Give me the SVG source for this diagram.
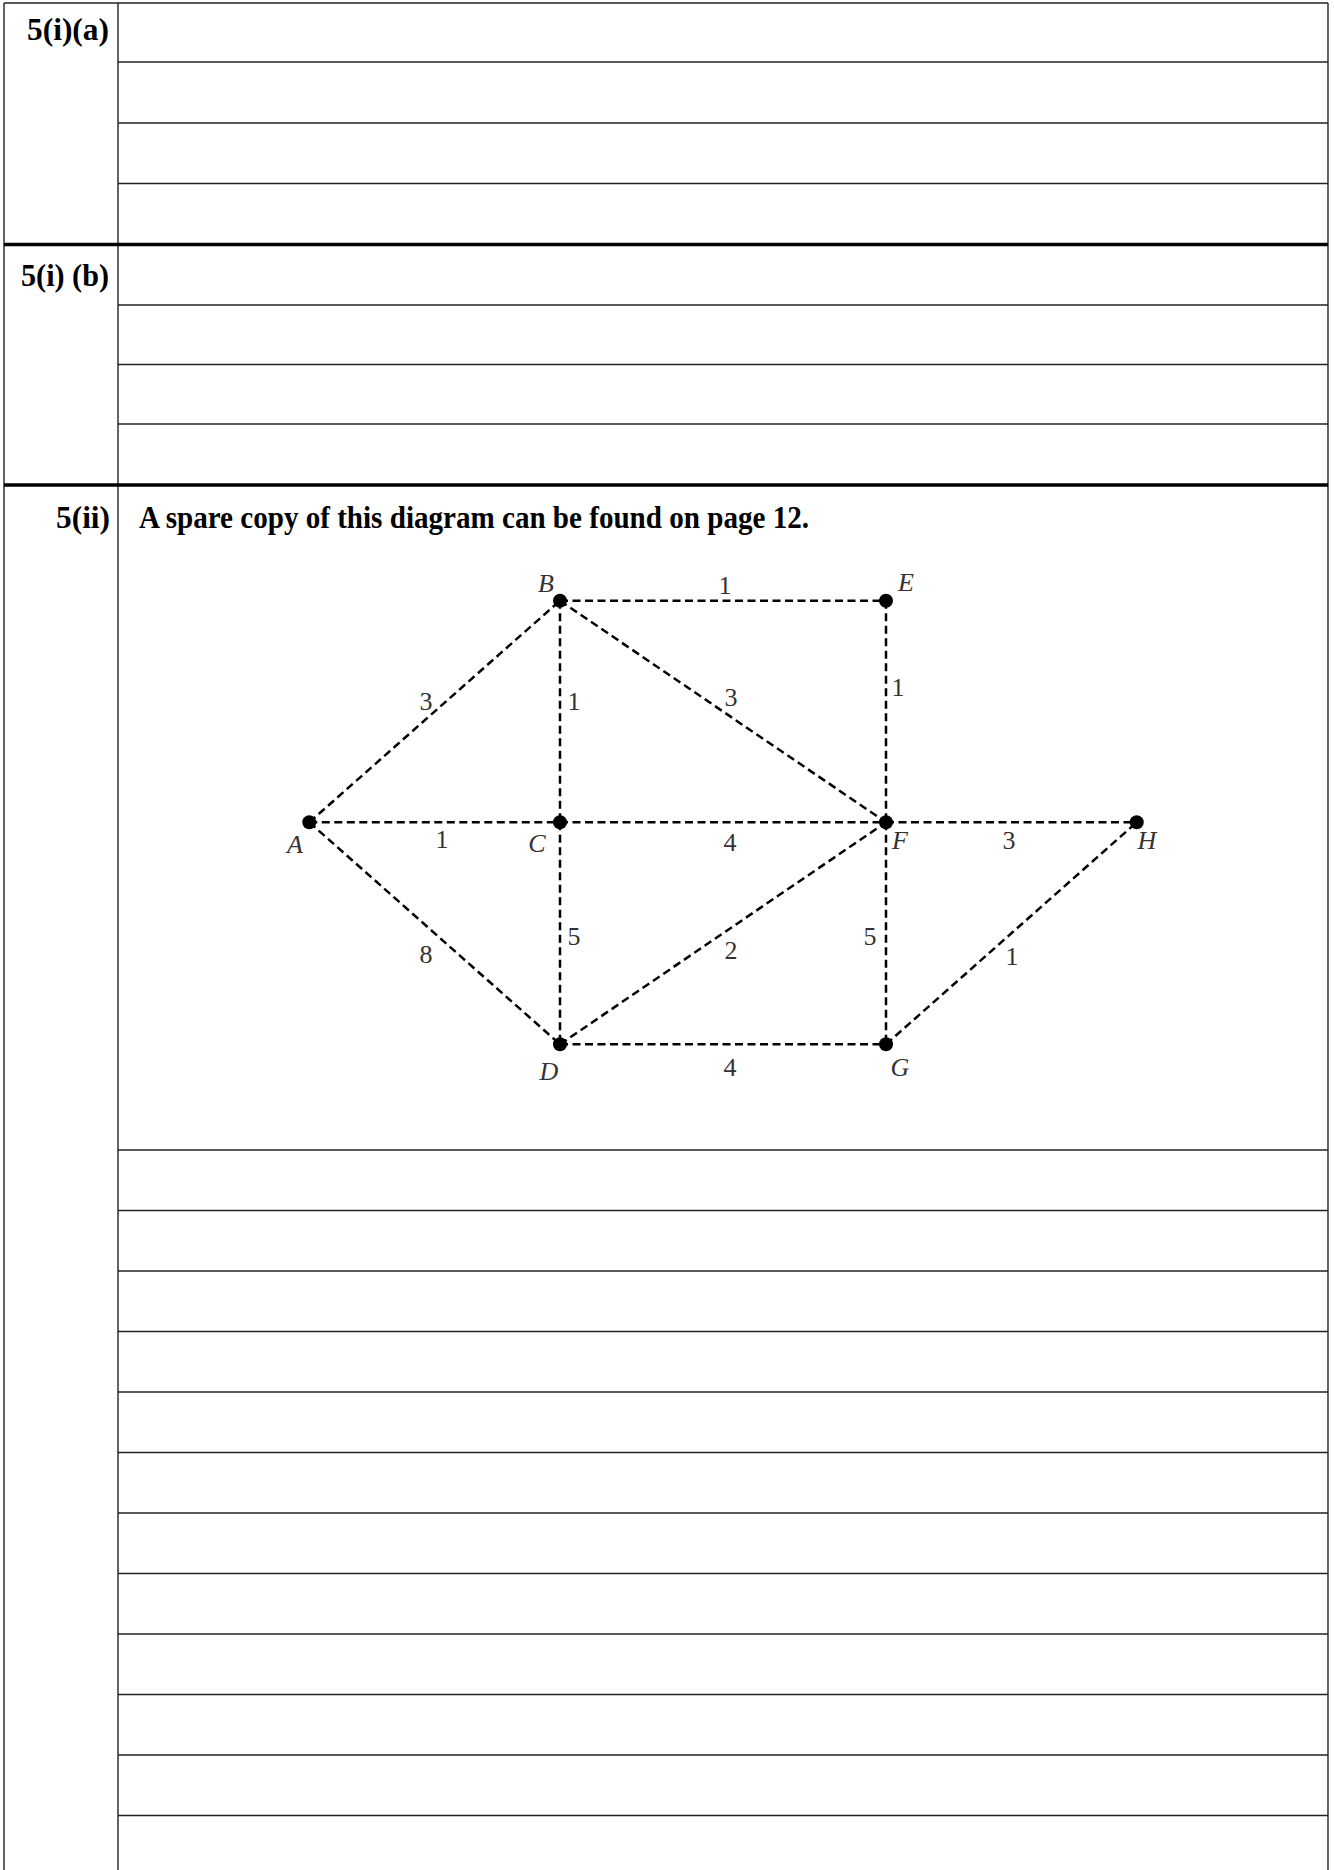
<svg xmlns="http://www.w3.org/2000/svg" width="1334" height="1870" viewBox="0 0 1334 1870">
<style>
.rule{stroke:#222;stroke-width:1.4;fill:none}
.thick{stroke:#000;stroke-width:3.5;fill:none}
.hdr{font-family:"Liberation Serif","Times New Roman",serif;font-weight:bold;font-size:31px;fill:#000}
.edge{stroke:#000;stroke-width:2.5;stroke-dasharray:8 4.5;fill:none}
.dot{fill:#000}
.nl{font-family:"Liberation Serif","Times New Roman",serif;font-style:italic;font-size:26px;fill:#333;text-anchor:middle}
.wl{font-family:"Liberation Serif","Times New Roman",serif;font-size:26px;fill:#333;text-anchor:middle}
</style>
<rect x="0" y="0" width="1334" height="1870" fill="#fff"/>
<g id="table">
<line class="rule" x1="4" y1="3" x2="1328" y2="3"/>
<line class="rule" x1="4" y1="3" x2="4" y2="1870"/>
<line class="rule" x1="1328" y1="3" x2="1328" y2="1870"/>
<line class="rule" x1="118" y1="3" x2="118" y2="1870"/>
<line class="rule" x1="118" y1="62" x2="1328" y2="62"/>
<line class="rule" x1="118" y1="123" x2="1328" y2="123"/>
<line class="rule" x1="118" y1="183.5" x2="1328" y2="183.5"/>
<line class="thick" x1="4" y1="244.5" x2="1328" y2="244.5"/>
<line class="rule" x1="118" y1="305" x2="1328" y2="305"/>
<line class="rule" x1="118" y1="364.5" x2="1328" y2="364.5"/>
<line class="rule" x1="118" y1="424" x2="1328" y2="424"/>
<line class="thick" x1="4" y1="485" x2="1328" y2="485"/>
<line class="rule" x1="118" y1="1150" x2="1328" y2="1150"/>
<line class="rule" x1="118" y1="1210.5" x2="1328" y2="1210.5"/>
<line class="rule" x1="118" y1="1271" x2="1328" y2="1271"/>
<line class="rule" x1="118" y1="1331.5" x2="1328" y2="1331.5"/>
<line class="rule" x1="118" y1="1392" x2="1328" y2="1392"/>
<line class="rule" x1="118" y1="1452.5" x2="1328" y2="1452.5"/>
<line class="rule" x1="118" y1="1513" x2="1328" y2="1513"/>
<line class="rule" x1="118" y1="1573.5" x2="1328" y2="1573.5"/>
<line class="rule" x1="118" y1="1634" x2="1328" y2="1634"/>
<line class="rule" x1="118" y1="1694.5" x2="1328" y2="1694.5"/>
<line class="rule" x1="118" y1="1755" x2="1328" y2="1755"/>
<line class="rule" x1="118" y1="1815.5" x2="1328" y2="1815.5"/>
<text class="hdr" x="27" y="40" textLength="82" lengthAdjust="spacingAndGlyphs">5(i)(a)</text>
<text class="hdr" x="21" y="286" textLength="88" lengthAdjust="spacingAndGlyphs">5(i) (b)</text>
<text class="hdr" x="56" y="528" textLength="54" lengthAdjust="spacingAndGlyphs">5(ii)</text>
<text class="hdr" x="139" y="528" textLength="670" lengthAdjust="spacingAndGlyphs">A spare copy of this diagram can be found on page 12.</text>
</g>
<g id="connectors">
<line class="edge" x1="309.3" y1="822.3" x2="560" y2="600.7"/>
<line class="edge" x1="309.3" y1="822.3" x2="560" y2="822.3"/>
<line class="edge" x1="309.3" y1="822.3" x2="560" y2="1044.3"/>
<line class="edge" x1="560" y1="600.7" x2="560" y2="822.3"/>
<line class="edge" x1="560" y1="600.7" x2="886" y2="600.7"/>
<line class="edge" x1="560" y1="600.7" x2="886" y2="822.3"/>
<line class="edge" x1="560" y1="822.3" x2="886" y2="822.3"/>
<line class="edge" x1="560" y1="822.3" x2="560" y2="1044.3"/>
<line class="edge" x1="560" y1="1044.3" x2="886" y2="822.3"/>
<line class="edge" x1="560" y1="1044.3" x2="886" y2="1044.3"/>
<line class="edge" x1="886" y1="600.7" x2="886" y2="822.3"/>
<line class="edge" x1="886" y1="822.3" x2="886" y2="1044.3"/>
<line class="edge" x1="886" y1="822.3" x2="1136.7" y2="822.3"/>
<line class="edge" x1="886" y1="1044.3" x2="1136.7" y2="822.3"/>
<text class="wl" x="426" y="710">3</text>
<text class="wl" x="574" y="710">1</text>
<text class="wl" x="442" y="848">1</text>
<text class="wl" x="725" y="594">1</text>
<text class="wl" x="731" y="706">3</text>
<text class="wl" x="898" y="696">1</text>
<text class="wl" x="730" y="851">4</text>
<text class="wl" x="426" y="963">8</text>
<text class="wl" x="574" y="945">5</text>
<text class="wl" x="731" y="959">2</text>
<text class="wl" x="870" y="945">5</text>
<text class="wl" x="730" y="1076">4</text>
<text class="wl" x="1009" y="849">3</text>
<text class="wl" x="1012" y="965">1</text>
</g>
<g id="node-A"><circle class="dot" cx="309.3" cy="822.3" r="7"/><text class="nl" x="295" y="853">A</text></g>
<g id="node-B"><circle class="dot" cx="560" cy="600.7" r="7"/><text class="nl" x="546" y="592">B</text></g>
<g id="node-C"><circle class="dot" cx="560" cy="822.3" r="7"/><text class="nl" x="537" y="852">C</text></g>
<g id="node-D"><circle class="dot" cx="560" cy="1044.3" r="7"/><text class="nl" x="549" y="1080">D</text></g>
<g id="node-E"><circle class="dot" cx="886" cy="600.7" r="7"/><text class="nl" x="906" y="591">E</text></g>
<g id="node-F"><circle class="dot" cx="886" cy="822.3" r="7"/><text class="nl" x="900" y="849">F</text></g>
<g id="node-G"><circle class="dot" cx="886" cy="1044.3" r="7"/><text class="nl" x="900" y="1076">G</text></g>
<g id="node-H"><circle class="dot" cx="1136.7" cy="822.3" r="7"/><text class="nl" x="1147" y="849">H</text></g>
</svg>
